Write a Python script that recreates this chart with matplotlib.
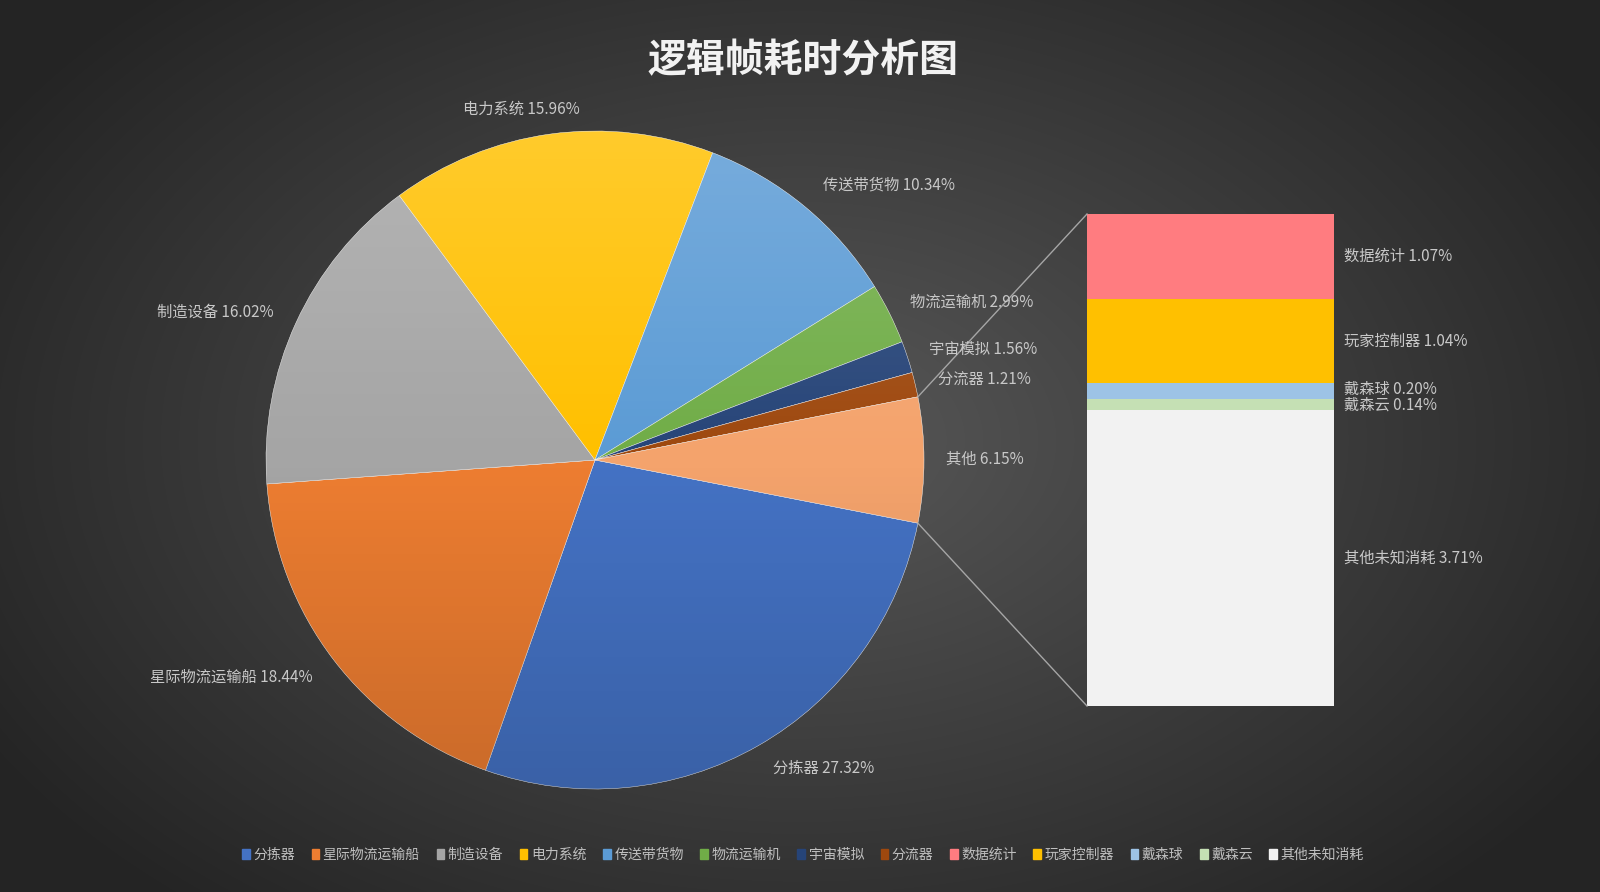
import numpy as np
import matplotlib
matplotlib.use("Agg")
import matplotlib.pyplot as plt
from matplotlib.patches import Circle, Patch

plt.rcParams['font.family'] = ['Noto Sans CJK SC', 'DejaVu Sans']

# pie data (clockwise from the bottom edge of "其他")
pie_names = ["分拣器", "星际物流运输船", "制造设备", "电力系统", "传送带货物",
             "物流运输机", "宇宙模拟", "分流器", "其他"]
pie_values = [27.32, 18.44, 16.02, 15.96, 10.34, 2.99, 1.56, 1.21, 6.15]
pie_colors = ["#4472C4", "#ED7D31", "#A5A5A5", "#FFC000", "#5B9BD5",
              "#70AD47", "#264478", "#9E480E", "#F4A36C"]

# breakdown of "其他" (top to bottom in the bar)
bar_names = ["数据统计", "玩家控制器", "戴森球", "戴森云", "其他未知消耗"]
bar_values = [1.07, 1.04, 0.20, 0.14, 3.71]
bar_colors = ["#FF7C80", "#FFC000", "#9DC3E6", "#C5E0B4", "#F2F2F2"]

# label positions in pixel coords (x, y from top)
pie_label_pos = [(824, 768), (231, 677), (215, 312), (521, 109), (889, 185),
                 (972, 302), (983, 349), (984, 379), (985, 459)]
# small vertical nudges for the bar labels (pixels, + is up)
bar_label_nudge = [0, 0, 1.5, -1.5, 0]

W, H = 1600, 892
fig = plt.figure(figsize=(16, 8.92), dpi=100)
ax = fig.add_axes([0, 0, 1, 1])

# radial background
yy, xx = np.mgrid[0:H, 0:W]
d = np.sqrt(((xx - 800) / 950.0) ** 2 + ((yy - 440) / 620.0) ** 2)
d = np.clip(d, 0, 1)
c0 = np.array([0x58, 0x58, 0x58]) / 255
c1 = np.array([0x24, 0x24, 0x24]) / 255
bg = c0[None, None, :] * (1 - d[..., None]) + c1[None, None, :] * d[..., None]
ax.imshow(bg, extent=(0, W, 0, H), zorder=0, aspect='auto')

cx, cy, r = 595, H - 460, 329
start = -pie_values[-1] / 100 * 360 / 2
wedges, _ = ax.pie(pie_values, colors=pie_colors, startangle=start, counterclock=False,
                   center=(cx, cy), radius=r, frame=True,
                   wedgeprops=dict(edgecolor='#FFFFFF', linewidth=0.3, alpha=1.0))
for w in wedges:
    w.set_zorder(2)

# light-to-dark gradient on the pie
g = np.linspace(0, 1, 256)
grad = np.zeros((256, 2, 4))
top = g < 0.5
grad[top, :, :3] = 1.0
grad[top, :, 3] = (0.5 - g[top])[:, None] * 0.35
grad[~top, :, :3] = 0.0
grad[~top, :, 3] = (g[~top] - 0.5)[:, None] * 0.3
im = ax.imshow(grad, extent=(cx - r, cx + r, cy - r, cy + r), zorder=3, aspect='auto')
im.set_clip_path(Circle((cx, cy), r, transform=ax.transData))

# stacked bar for "其他"
bx0, bx1 = 1087, 1334
btop, bbot = H - 214, H - 706
scale = (btop - bbot) / sum(bar_values)
y = btop
for name, v, col, nud in zip(bar_names, bar_values, bar_colors, bar_label_nudge):
    h = v * scale
    ax.bar((bx0 + bx1) / 2, h, width=bx1 - bx0, bottom=y - h, color=col, zorder=2)
    ax.text(bx1 + 10, y - h / 2 + nud, f"{name} {v:.2f}%", color='#C8C8C8', fontsize=11,
            va='center', ha='left', zorder=5)
    y -= h

# connector lines
a = np.deg2rad(pie_values[-1] / 100 * 360 / 2)
ax.plot([cx + r * np.cos(a), bx0], [cy + r * np.sin(a), btop], color='#A6A6A6', lw=1, zorder=4)
ax.plot([cx + r * np.cos(-a), bx0], [cy + r * np.sin(-a), bbot], color='#A6A6A6', lw=1, zorder=4)

# pie labels
for name, v, (lx, ly) in zip(pie_names, pie_values, pie_label_pos):
    ax.text(lx, H - ly, f"{name} {v:.2f}%", color='#C8C8C8', fontsize=11,
            ha='center', va='center', zorder=5)

ax.text(803, H - 61, "逻辑帧耗时分析图", color='#F2F2F2', fontsize=28,
        fontweight='bold', ha='center', va='center', zorder=5)

handles = [Patch(color=c) for c in pie_colors[:-1] + bar_colors]
labels = pie_names[:-1] + bar_names
ax.legend(handles, labels, loc='center', bbox_to_anchor=(803 / W, 1 - 855 / H),
          bbox_transform=fig.transFigure, ncol=13, frameon=False, fontsize=10,
          labelcolor='#BFBFBF', handlelength=0.55, handleheight=0.75,
          handletextpad=0.25, columnspacing=1.2)

ax.set_xlim(0, W)
ax.set_ylim(0, H)
ax.set_aspect('auto')
ax.axis('off')
fig.savefig("out.png", dpi=100)
